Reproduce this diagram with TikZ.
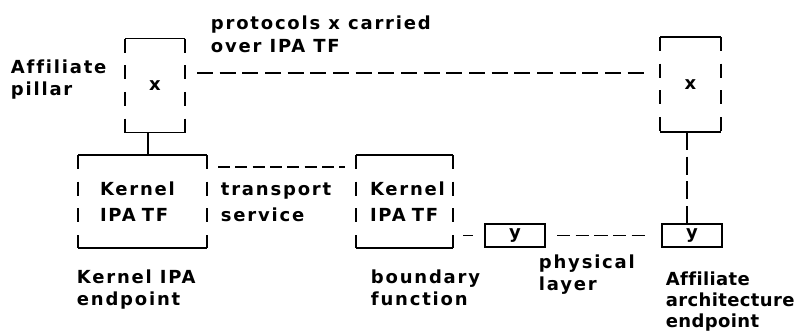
\documentclass[tikz,border=0pt]{standalone}
\usepackage{fontspec}
\setmainfont{DejaVu Sans}[LetterSpace=10,Ligatures={NoCommon,NoRare}]
\begin{document}
\begin{tikzpicture}[x=0.75pt,y=-0.75pt,
  line width=1.4pt,
  every node/.style={font=\fontsize{13.5}{16.5}\selectfont\bfseries},
  boxn/.style={inner sep=0pt, outer sep=0pt},
  lbl/.style={anchor=north west, inner sep=0pt, align=left},
  sidedash/.style={dash pattern=on 10.5pt off 9.5pt},
  longdash/.style={dash pattern=on 12pt off 5pt},
  middash/.style={dash pattern=on 9pt off 4pt},
  phydash/.style={dash pattern=on 10pt off 4pt},
  vdash/.style={dash pattern=on 13.5pt off 5pt}
]
\useasboundingbox (0,0) rectangle (797,333);

% boxes
\node[boxn, minimum width=45pt, minimum height=70.5pt] (xl) at (155,85.5) {x};
\node[boxn, minimum width=45.75pt, minimum height=71.25pt] (xr) at (690.5,84.5) {x};
\node[boxn, inner xsep=16.5pt, text width=63.75pt, minimum height=69.75pt, align=left,
      font=\fontsize{13.5}{19.5}\selectfont\bfseries] (k1) at (142.5,201.5) {Kernel\\IPA TF};
\node[boxn, inner xsep=10.5pt, text width=51.75pt, minimum height=69.75pt, align=left,
      font=\fontsize{13.5}{19.5}\selectfont\bfseries] (k2) at (404.5,201.5) {Kernel\\IPA TF};
\node[boxn, draw, minimum width=45pt, minimum height=17.25pt] (y1) at (515,235.5) {y};
\node[boxn, draw, minimum width=45pt, minimum height=17.25pt] (y2) at (692,235.5) {y};

% box outlines: solid top and bottom, dashed sides
\foreach \b in {xl,xr,k1,k2}{
  \draw (\b.north west) -- (\b.north east);
  \draw (\b.south west) -- (\b.south east);
  \draw[sidedash] (\b.north west) -- (\b.south west);
  \draw[sidedash] (\b.north east) -- (\b.south east);
}

% connectors
\draw[longdash, shorten <=9pt, shorten >=7.5pt]
  ([yshift=9.4pt]xl.east) -- ([yshift=9.4pt]xl.east -| xr.west);
\draw ([xshift=-5.5pt]xl.south) -- ([xshift=-5.5pt]xl.south |- k1.north);
\draw[middash, shorten <=8.25pt, shorten >=8.25pt]
  ([yshift=25.9pt]k1.east) -- ([yshift=25.9pt]k1.east -| k2.west);
\draw[middash, shorten <=7.5pt, shorten >=9pt] (k2.east |- y1.west) -- (y1.west);
\draw[phydash, shorten <=9pt, shorten >=9pt] (y1.east) -- (y2.west);
\draw[vdash] ([xshift=-2.6pt]xr.south) -- ([xshift=-2.6pt]xr.south |- y2.north);

% labels
\node[lbl, font=\fontsize{13.5}{17.25}\selectfont\bfseries] (proto) at (210,15) {protocols x carried\\over IPA TF};
\node[lbl] (pillar) at (10,59) {Affiliate\\pillar};
\node[lbl, font=\fontsize{13.5}{19.5}\selectfont\bfseries] (trans) at (220,182) {transport\\service};
\node[lbl] (kend) at (76,269) {Kernel IPA\\endpoint};
\node[lbl] (bound) at (370,269) {boundary\\function};
\node[lbl] (phys) at (538,254) {physical\\layer};
\node[lbl, font=\fontsize{13.5}{15.75}\selectfont\bfseries\addfontfeatures{LetterSpace=2}] (aend) at (665,271) {Affiliate\\architecture\\endpoint};
\end{tikzpicture}
\end{document}
